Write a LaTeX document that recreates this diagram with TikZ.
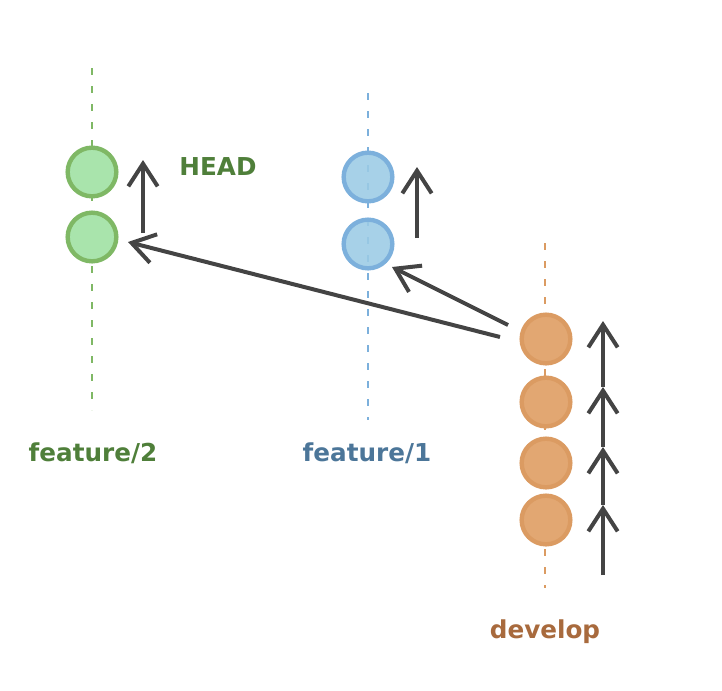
\documentclass[tikz,border=0pt]{standalone}
\usepackage{fontspec}
\setmainfont{DejaVu Sans}
\usetikzlibrary{arrows.meta}
\definecolor{gfill}{HTML}{A9E4AC}
\definecolor{gline}{HTML}{7FB865}
\definecolor{gtext}{HTML}{4F7F3A}
\definecolor{bfill}{HTML}{9BCBE5}
\definecolor{bline}{HTML}{7CB0DC}
\definecolor{btext}{HTML}{4C7699}
\definecolor{ofill}{HTML}{E2A772}
\definecolor{oline}{HTML}{DB9B62}
\definecolor{otext}{HTML}{A86A3D}
\definecolor{arrcol}{HTML}{444444}
\tikzset{
  commit/.style={circle, inner sep=0pt, minimum size=36.5pt, line width=3.3pt},
  gcommit/.style={commit, draw=gline, fill=gfill},
  bcommit/.style={commit, draw=bline, fill=bfill, fill opacity=0.88},
  ocommit/.style={commit, draw=oline, fill=ofill},
  branchline/.style={line width=1.8pt, dash pattern=on 5pt off 8.5pt},
  arr/.style={draw=arrcol, line width=3pt, -{Straight Barb[length=17pt,width=22pt,line width=3pt]}},
  lbl/.style={font=\bfseries\fontsize{18.5}{20}\selectfont, anchor=base, inner sep=0pt}
}
\begin{document}
\begin{tikzpicture}[x=0.75pt,y=-0.75pt]
\useasboundingbox (0,0) rectangle (722,690);
% branch lines
\coordinate (gtop) at (92,68);
\coordinate (gbot) at (92,410);
\coordinate (btop) at (368,93);
\coordinate (bbot) at (368,420);
\coordinate (otop) at (545,243);
\coordinate (obot) at (545,588);
\draw[branchline, draw=gline] (gtop) -- (gbot);
\draw[branchline, draw=bline] (btop) -- (bbot);
\draw[branchline, draw=oline] (otop) -- (obot);
% commits
\node[gcommit] (g1) at (92,172) {};
\node[gcommit] (g2) at (92,237) {};
\node[bcommit] (b1) at (368,177) {};
\node[bcommit] (b2) at (368,244) {};
\node[ocommit] (o1) at (546,339) {};
\node[ocommit] (o2) at (546,402) {};
\node[ocommit] (o3) at (546,463) {};
\node[ocommit] (o4) at (546,520) {};
% labels
\node[lbl, text=gtext] (head) at (218,175) {HEAD};
\node[lbl, text=gtext] (f2) at (93,461) {feature/2};
\node[lbl, text=btext] (f1) at (367,461) {feature/1};
\node[lbl, text=otext] (dev) at (545,638) {develop};
% arrows
\coordinate (ga1) at (143,233);
\coordinate (ga2) at (143,160);
\draw[arr] (ga1) -- (ga2);
\coordinate (ba1) at (417,238);
\coordinate (ba2) at (417,167);
\draw[arr] (ba1) -- (ba2);
\coordinate (oa0) at (603,575);
\coordinate (oa1) at (603,505);
\coordinate (oa2) at (603,447);
\coordinate (oa3) at (603,387);
\coordinate (oa4) at (603,321);
\draw[arr] (oa0) -- (oa1);
\draw[arr] (oa1) -- (oa2);
\draw[arr] (oa2) -- (oa3);
\draw[arr] (oa3) -- (oa4);
\coordinate (m1s) at (500,337);
\coordinate (m1e) at (128,242);
\draw[arr] (m1s) -- (m1e);
\coordinate (m2s) at (508,325);
\coordinate (m2e) at (392,267);
\draw[arr] (m2s) -- (m2e);
\end{tikzpicture}
\end{document}
